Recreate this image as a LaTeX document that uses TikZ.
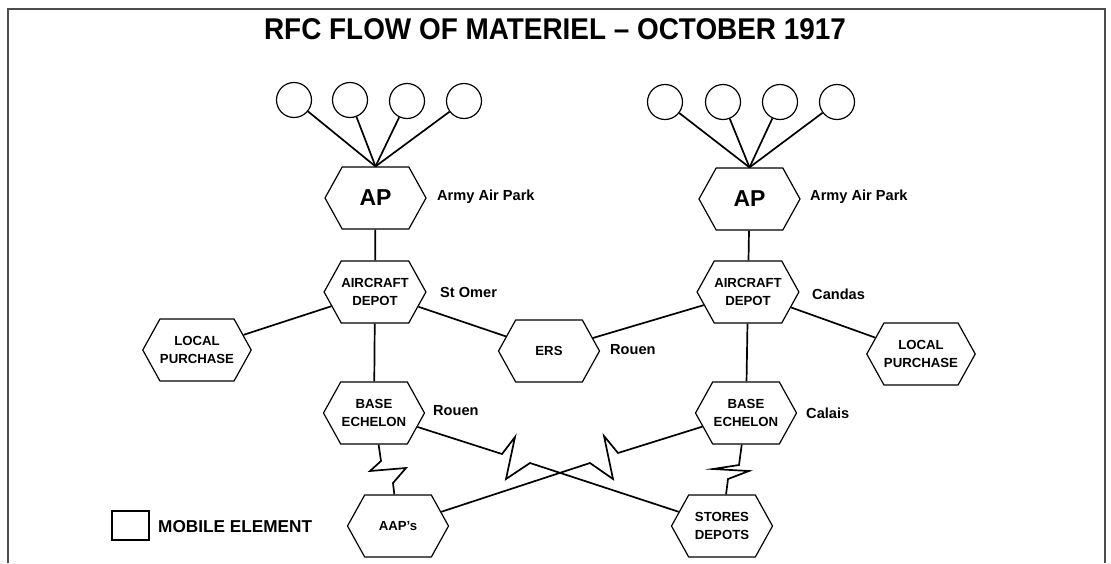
\documentclass[tikz,border=0pt]{standalone}
\usepackage{fontspec}
\setmainfont{Liberation Sans}
\usetikzlibrary{shapes.symbols}
\begin{document}
\begin{tikzpicture}[x=1pt,y=-1pt,
  hexbox/.style={draw, line width=1.2pt, signal, signal to=east and west,
    signal pointer angle=122, minimum width=101pt, minimum height=62pt,
    inner sep=0pt, align=center, font=\fontsize{13.2}{18}\selectfont\bfseries},
  ball/.style={draw, line width=1.2pt, circle, minimum size=35pt, inner sep=0pt},
  lbl/.style={anchor=west, inner sep=0pt, font=\fontsize{14.6}{16}\selectfont\bfseries},
  conn/.style={line width=1.7pt},
  aptext/.style={font=\fontsize{23}{26}\selectfont\bfseries}]
\useasboundingbox (0,0) rectangle (1111,563);
\draw[line width=1.8pt, black!70] (8,563) -- (8,9) -- (1105,9) -- (1105,563);
\node[font=\fontsize{30}{32}\selectfont\bfseries, xscale=0.93] (title) at (555,29) {RFC FLOW OF MATERIEL -- OCTOBER 1917};

% left group
\node[ball] (c1) at (294,100) {};
\node[ball] (c2) at (350,100) {};
\node[ball] (c3) at (407,101) {};
\node[ball] (c4) at (464,101) {};
\node[hexbox, aptext] (apL) at (375.5,198) {AP};
\node[lbl] (apLl) at (437,197) {Army Air Park};
\node[hexbox] (adL) at (375,292) {AIRCRAFT\\DEPOT};
\node[lbl] (adLl) at (440,292) {St Omer};
\node[hexbox] (lpL) at (197,350) {LOCAL\\PURCHASE};
\node[hexbox] (beL) at (374,413) {BASE\\ECHELON};
\node[lbl] (beLl) at (433,411) {Rouen};
\node[hexbox] (ers) at (549,351) {ERS};
\node[lbl] (ersl) at (610,350) {Rouen};

% right group
\node[ball] (d1) at (665,102) {};
\node[ball] (d2) at (723,102) {};
\node[ball] (d3) at (780,102) {};
\node[ball] (d4) at (837,102) {};
\node[hexbox, aptext] (apR) at (749.5,199) {AP};
\node[lbl] (apRl) at (810,197) {Army Air Park};
\node[hexbox] (adR) at (748,292) {AIRCRAFT\\DEPOT};
\node[lbl] (adRl) at (812,294) {Candas};
\node[hexbox] (lpR) at (921,354) {LOCAL\\PURCHASE};
\node[hexbox] (beR) at (746,413) {BASE\\ECHELON};
\node[lbl] (beRl) at (806,413) {Calais};

% bottom
\node[hexbox] (aap) at (398,526) {AAP's};
\node[hexbox] (sto) at (722,526) {STORES\\DEPOTS};

% legend
\node[draw, line width=1.2pt, minimum width=37pt, minimum height=29pt, inner sep=0pt] (leg) at (130.5,525.5) {};
\node[anchor=west, inner sep=0pt, font=\fontsize{17.2}{18}\selectfont\bfseries] (legt) at (158,527) {MOBILE ELEMENT};

% connectors
\foreach \c in {c1,c2,c3,c4} \draw[conn] (\c) -- (apL.north);
\foreach \c in {d1,d2,d3,d4} \draw[conn] (\c) -- (apR.north);
\draw[conn] (apL) -- (adL);
\draw[conn] (apR) -- (adR);
\draw[conn] (adL) -- (beL);
\draw[conn] (adR) -- (beR);
\draw[conn] (adL) -- (lpL);
\draw[conn] (adR) -- (lpR);
\draw[conn] (adL) -- (ers);
\draw[conn] (ers) -- (adR);

\coordinate (z1) at (502,454);
\coordinate (z2) at (515,437);
\coordinate (z3) at (506,479);
\coordinate (z4) at (530,463);
\draw[conn, line join=miter] (beL) -- (z1) -- (z2) -- (z3) -- (z4) -- (sto);

\coordinate (w1) at (618,453);
\coordinate (w2) at (604,436);
\coordinate (w3) at (613,479);
\coordinate (w4) at (590,463);
\draw[conn, line join=miter] (beR) -- (w1) -- (w2) -- (w3) -- (w4) -- (aap);

\coordinate (s1) at (381,461);
\coordinate (s2) at (370,471);
\coordinate (s3) at (406,468);
\coordinate (s4) at (393,483);
\draw[conn, line join=miter] (beL) -- (s1) -- (s2) -- (s3) -- (s4) -- (aap);

\coordinate (t1) at (739,465);
\coordinate (t2) at (713,469);
\coordinate (t3) at (749,471);
\coordinate (t4) at (728,479);
\draw[conn, line join=miter] (beR) -- (t1) -- (t2) -- (t3) -- (t4) -- (sto);
\end{tikzpicture}
\end{document}
